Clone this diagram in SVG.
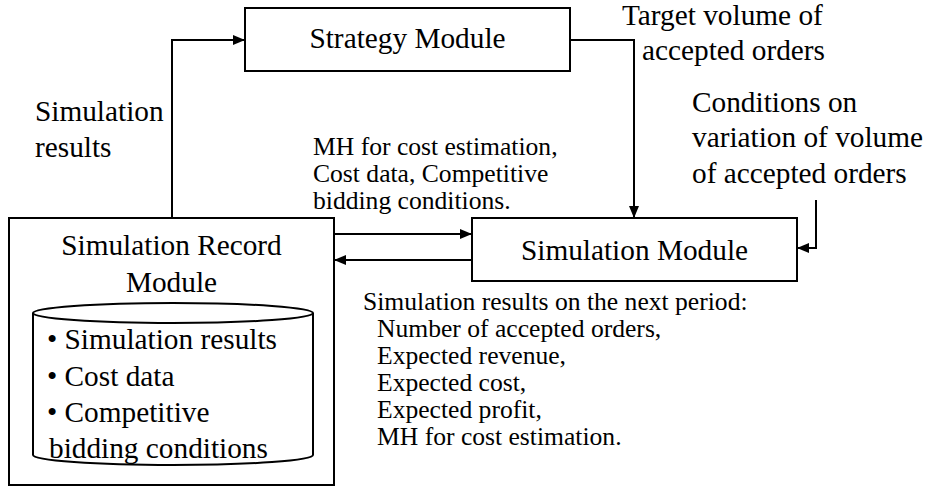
<svg xmlns="http://www.w3.org/2000/svg" width="930" height="489" viewBox="0 0 930 489">
  <style>
    .box { fill: #fff; stroke: #000; stroke-width: 2; }
    .wire { fill: none; stroke: #000; stroke-width: 2; }
    .big { font-family: "Liberation Serif", "Times New Roman", serif; font-size: 29.3px; fill: #000; }
    .small { font-family: "Liberation Serif", "Times New Roman", serif; font-size: 25.6px; fill: #000; }
    .mid { text-anchor: middle; }
  </style>
  <defs>
    <marker id="arrow" viewBox="0 0 12 10" refX="12" refY="5" markerWidth="12" markerHeight="10" markerUnits="userSpaceOnUse" orient="auto">
      <path d="M0,0 L12,5 L0,10 Z" fill="#000"/>
    </marker>
  </defs>

  <rect width="930" height="489" fill="#fff"/>

  <!-- connectors -->
  <g id="connectors">
    <path class="wire" d="M172,218 V40 H245" marker-end="url(#arrow)"/>
    <path class="wire" d="M570,40 H634 V218" marker-end="url(#arrow)"/>
    <path class="wire" d="M816,200 V248 H797" marker-end="url(#arrow)"/>
    <path class="wire" d="M334,234 H472" marker-end="url(#arrow)"/>
    <path class="wire" d="M472,260 H334" marker-end="url(#arrow)"/>
  </g>

  <!-- strategy module -->
  <g id="strategy-module">
    <rect class="box" x="245" y="8" width="325" height="63"/>
    <text class="big mid" x="407.5" y="48">Strategy Module</text>
  </g>

  <!-- simulation module -->
  <g id="simulation-module">
    <rect class="box" x="472" y="218" width="325" height="63"/>
    <text class="big mid" x="634.5" y="260">Simulation Module</text>
  </g>

  <!-- simulation record module with its data store -->
  <g id="simulation-record-module">
    <rect class="box" x="9" y="218" width="325" height="267"/>
    <text class="big mid" x="171.5" y="255">Simulation Record</text>
    <text class="big mid" x="171.5" y="292">Module</text>
    <path class="box" d="M33,313 V455 A140,10 0 0 0 313,455 V313"/>
    <ellipse class="box" cx="173" cy="313" rx="140" ry="10"/>
    <text class="big" x="47" y="349">• Simulation results</text>
    <text class="big" x="47" y="386">• Cost data</text>
    <text class="big" x="47" y="422">• Competitive</text>
    <text class="big" x="49" y="458">bidding conditions</text>
  </g>

  <!-- connector labels -->
  <g id="labels">
    <text class="big" x="35" y="121">Simulation</text>
    <text class="big" x="35" y="157">results</text>

    <text class="big" x="622" y="25">Target volume of</text>
    <text class="big" x="642" y="60">accepted orders</text>

    <text class="big" x="692" y="112">Conditions on</text>
    <text class="big" x="692" y="147">variation of volume</text>
    <text class="big" x="692" y="183">of accepted orders</text>

    <text class="small" x="313" y="155">MH for cost estimation,</text>
    <text class="small" x="313" y="182">Cost data, Competitive</text>
    <text class="small" x="313" y="209">bidding conditions.</text>

    <text class="small" x="363" y="310">Simulation results on the next period:</text>
    <text class="small" x="377" y="337">Number of accepted orders,</text>
    <text class="small" x="377" y="364">Expected revenue,</text>
    <text class="small" x="377" y="391">Expected cost,</text>
    <text class="small" x="377" y="418">Expected profit,</text>
    <text class="small" x="377" y="445">MH for cost estimation.</text>
  </g>
</svg>
